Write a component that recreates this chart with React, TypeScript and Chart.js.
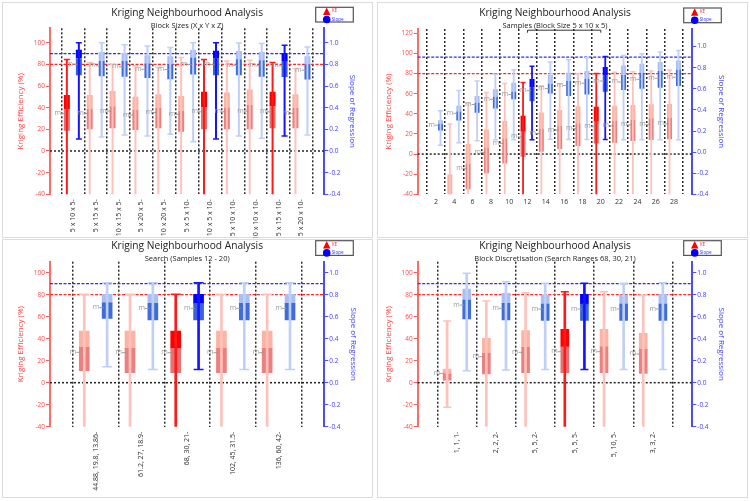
import React, { useEffect, useRef } from 'react';
import { Chart, registerables } from 'chart.js';

Chart.register(...registerables);
Chart.defaults.font.family = "'Open Sans', sans-serif";

// [min, q1, median, q3, max, mean]
type Stat = [number, number, number, number, number, number];

// ---------- Panel 1: Block sizes ----------
const blockLabels = ['5 x 10 x 5', '5 x 15 x 5', '10 x 15 x 5', '5 x 20 x 5', '10 x 20 x 5', '5 x 5 x 10', '10 x 5 x 10', '5 x 10 x 10', '10 x 10 x 10', '5 x 15 x 10', '5 x 20 x 10'];
const blockKe: Stat[] = [
  [-60, 18.7, 38.4, 51.6, 84.4, 34.7],
  [-60, 20.0, 38.7, 51.6, 81.7, 34.7],
  [-60, 20.9, 41.4, 55.3, 80.1, 36.8],
  [-60, 19.3, 37.8, 50.0, 78.6, 33.2],
  [-60, 20.9, 39.9, 52.5, 77.1, 35.6],
  [-60, 17.8, 37.2, 50.7, 86.3, 33.8],
  [-60, 20.0, 40.2, 54.7, 84.4, 36.2],
  [-60, 20.0, 40.2, 54.0, 83.2, 36.2],
  [-60, 20.0, 42.4, 56.8, 83.8, 36.8],
  [-60, 20.9, 41.4, 54.7, 81.7, 36.2],
  [-60, 20.9, 39.9, 52.5, 76.1, 34.7],
];
const blockSlope: Stat[] = [
  [0.11, 0.70, 0.854, 0.936, 1.0, 0.80],
  [0.13, 0.69, 0.832, 0.915, 1.0, 0.786],
  [0.147, 0.685, 0.832, 0.906, 0.982, 0.777],
  [0.138, 0.675, 0.807, 0.884, 0.97, 0.755],
  [0.154, 0.663, 0.801, 0.875, 0.955, 0.752],
  [0.086, 0.706, 0.863, 0.936, 1.0, 0.798],
  [0.111, 0.70, 0.854, 0.926, 1.0, 0.798],
  [0.138, 0.70, 0.847, 0.924, 0.998, 0.792],
  [0.117, 0.685, 0.838, 0.915, 0.992, 0.786],
  [0.138, 0.683, 0.832, 0.906, 0.977, 0.786],
  [0.147, 0.66, 0.801, 0.875, 0.961, 0.746],
];
const blockHighlight = [0, 6, 9];

// ---------- Panel 2: Samples ----------
const sampleLabels = ['2', '4', '6', '8', '10', '12', '14', '16', '18', '20', '22', '24', '26', '28'];
const sampleKe: (Stat | null)[] = [
  null,
  [-75, -65, -48, -20.2, 29.8, -52],
  [-70, -35.1, -9.3, 9.9, 50.3, -14.2],
  [-70, -19.2, 6.6, 24.5, 61.3, 1.7],
  [-70, -9.3, 15.6, 32.8, 70.2, 10.6],
  [-70, -2.6, 22.2, 38.1, 71.0, 17.0],
  [-70, 2.3, 25.5, 41.4, 68.0, 20.5],
  [-70, 5.0, 28.0, 43.7, 70.0, 23.8],
  [-70, 8.0, 30.5, 47.5, 80.0, 25.5],
  [-70, 10.6, 32.1, 47.0, 80.1, 27.2],
  [-70, 11.3, 33.3, 47.9, 81.3, 28.0],
  [-70, 12.9, 33.8, 48.8, 81.9, 29.0],
  [-70, 13.9, 35.5, 49.4, 82.6, 29.5],
  [-70, 14.6, 36.2, 49.8, 83.5, 30.0],
];
const sampleSlope: Stat[] = [
  [0.066, 0.205, 0.268, 0.302, 0.393, 0.255],
  [0.088, 0.30, 0.384, 0.44, 0.583, 0.368],
  [0.107, 0.373, 0.467, 0.533, 0.674, 0.451],
  [0.116, 0.414, 0.524, 0.596, 0.737, 0.50],
  [0.116, 0.502, 0.571, 0.658, 0.78, 0.545],
  [0.117, 0.482, 0.614, 0.693, 0.815, 0.582],
  [0.122, 0.555, 0.649, 0.734, 0.853, 0.602],
  [0.12, 0.532, 0.673, 0.753, 0.875, 0.632],
  [0.12, 0.546, 0.695, 0.768, 0.894, 0.653],
  [0.12, 0.571, 0.727, 0.806, 0.907, 0.674],
  [0.117, 0.588, 0.732, 0.821, 0.916, 0.665],
  [0.117, 0.60, 0.749, 0.837, 0.932, 0.69],
  [0.117, 0.61, 0.768, 0.853, 0.948, 0.70],
  [0.117, 0.626, 0.78, 0.869, 0.964, 0.71],
];
const sampleHighlight = [5, 9];
const sampleBracket = ['12', '20'];

// ---------- Panel 3: Search ----------
const searchLabels = ['44.88, 19.8, 13.86', '61.2, 27, 18.9', '68, 30, 21', '102, 45, 31.5', '136, 60, 42'];
const searchKe: Stat[] = [
  [-60, 10.9, 32.1, 47.0, 80.3, 27.6],
  [-60, 9.1, 31.2, 47.0, 80.3, 27.3],
  [-60, 9.1, 31.2, 47.0, 80.3, 27.3],
  [-60, 9.1, 31.2, 47.0, 80.3, 27.3],
  [-60, 9.1, 31.2, 47.0, 80.3, 27.3],
];
const searchSlope: Stat[] = [
  [0.145, 0.585, 0.727, 0.803, 0.909, 0.682],
  [0.121, 0.57, 0.721, 0.803, 0.909, 0.676],
  [0.121, 0.57, 0.721, 0.803, 0.909, 0.676],
  [0.121, 0.57, 0.721, 0.803, 0.909, 0.676],
  [0.121, 0.57, 0.721, 0.803, 0.909, 0.676],
];
const searchHighlight = [2];

// ---------- Panel 4: Block discretisation ----------
const discLabels = ['1, 1, 1', '2, 2, 2', '5, 5, 2', '5, 5, 5', '5, 10, 5', '3, 3, 2'];
const discKe: Stat[] = [
  [-22.4, 2.4, 7.9, 12.4, 56.1, 8.5],
  [-60, 7.9, 26.7, 40.3, 74.2, 23.6],
  [-60, 9.1, 32.1, 47.3, 81.8, 27.6],
  [-60, 9.1, 32.7, 48.5, 82.7, 28.2],
  [-60, 9.1, 32.7, 48.5, 82.7, 28.2],
  [-60, 8.5, 30.3, 44.8, 79.7, 26.1],
];
const discSlope: Stat[] = [
  [0.109, 0.579, 0.752, 0.852, 0.994, 0.706],
  [0.115, 0.57, 0.721, 0.812, 0.918, 0.676],
  [0.121, 0.567, 0.715, 0.797, 0.903, 0.67],
  [0.121, 0.567, 0.715, 0.803, 0.903, 0.67],
  [0.121, 0.567, 0.715, 0.797, 0.903, 0.67],
  [0.121, 0.567, 0.715, 0.803, 0.909, 0.67],
];
const discHighlight = [3];

// reference values
const keTarget = 80;
const slopeTarget = 0.9;
const keZero = 0;

// ---------- styles ----------
const TITLE_SIZE = 10.2;
const SUB_SIZE = 7.5;
const AXIS_TITLE_SIZE = 8;
const TICK_SIZE = 6.5;

const KE_COLORS = { w: '#ffc2ba', wHl: '#ff1a1a', lo: '#ec8080', loHl: '#e87070', up: '#fbb4a4', upHl: '#ff0000' };
const SL_COLORS = { w: '#c0cff8', wHl: '#1414ff', lo: '#3f6cdc', loHl: '#3a62d8', up: '#a9bff4', upHl: '#0000ff' };

interface PanelSpec {
  title: string;
  subtitle: string;
  labels: string[];
  ke: (Stat | null)[];
  slope: Stat[];
  highlight: number[];
  keMax: number;
  slopeMax: number;
  rotate: boolean;
  bracket?: string[];
  box: { x: number; y: number; w: number; h: number };
  area: { l: number; r: number; t: number; b: number };
  titleY: number;
  subY: number;
  leftTitleX: number;
  rightTitleX: number;
  cp: number;
  boxPx: number;
  whiskerPx: number;
}

const panels: PanelSpec[] = [
  {
    title: 'Kriging Neighbourhood Analysis', subtitle: 'Block Sizes (X x Y x Z)',
    labels: blockLabels, ke: blockKe, slope: blockSlope, highlight: blockHighlight,
    keMax: 113.3, slopeMax: 1.133, rotate: true,
    box: { x: 0, y: 0, w: 375, h: 238 }, area: { l: 50, r: 324.3, t: 28.3, b: 194.3 },
    titleY: 12.7, subY: 26, leftTitleX: 20.7, rightTitleX: 352.5, cp: 1.05, boxPx: 6, whiskerPx: 2,
  },
  {
    title: 'Kriging Neighbourhood Analysis', subtitle: 'Samples (Block Size 5 x 10 x 5)',
    labels: sampleLabels, ke: sampleKe, slope: sampleSlope, highlight: sampleHighlight,
    keMax: 124.3, slopeMax: 1.167, rotate: false, bracket: sampleBracket,
    box: { x: 375, y: 0, w: 375, h: 238 }, area: { l: 42.7, r: 317.3, t: 29, b: 194.3 },
    titleY: 12.7, subY: 26, leftTitleX: 14, rightTitleX: 346.7, cp: 0.98, boxPx: 5, whiskerPx: 1.8,
  },
  {
    title: 'Kriging Neighbourhood Analysis', subtitle: 'Search (Samples 12 - 20)',
    labels: searchLabels, ke: searchKe, slope: searchSlope, highlight: searchHighlight,
    keMax: 110, slopeMax: 1.1, rotate: true,
    box: { x: 0, y: 238, w: 375, h: 263 }, area: { l: 50, r: 324.3, t: 23.7, b: 188.7 },
    titleY: 8, subY: 21.3, leftTitleX: 20.7, rightTitleX: 353, cp: 1.0, boxPx: 10, whiskerPx: 2,
  },
  {
    title: 'Kriging Neighbourhood Analysis', subtitle: 'Block Discretisation (Search Ranges 68, 30, 21)',
    labels: discLabels, ke: discKe, slope: discSlope, highlight: discHighlight,
    keMax: 110, slopeMax: 1.1, rotate: true,
    box: { x: 375, y: 238, w: 375, h: 263 }, area: { l: 42.7, r: 317.3, t: 23.7, b: 188.7 },
    titleY: 8, subY: 21.3, leftTitleX: 14, rightTitleX: 346.7, cp: 1.0, boxPx: 8, whiskerPx: 2,
  },
];

// ---------- plugins ----------
const refLinesPlugin = {
  id: 'refLines',
  beforeDatasetsDraw(chart: any) {
    const { ctx, chartArea: a, scales } = chart;
    const lines = [
      { v: keTarget, sc: scales.y, color: '#ff2b2b', w: 1.2, dash: [3, 1.5] },
      { v: slopeTarget, sc: scales.y2, color: '#2b2bff', w: 1.2, dash: [3, 1.5] },
      { v: keZero, sc: scales.y, color: '#222222', w: 1.5, dash: [2, 2] },
    ];
    ctx.save();
    for (const l of lines) {
      const y = l.sc.getPixelForValue(l.v);
      ctx.strokeStyle = l.color;
      ctx.lineWidth = l.w;
      ctx.setLineDash(l.dash);
      ctx.beginPath();
      ctx.moveTo(a.left, y);
      ctx.lineTo(a.right, y);
      ctx.stroke();
    }
    ctx.restore();
  },
};

const boxMarksPlugin = {
  id: 'boxMarks',
  afterDatasetsDraw(chart: any) {
    const { ctx, chartArea: a } = chart;
    ctx.save();
    ctx.beginPath();
    ctx.rect(a.left, a.top - 4, a.right - a.left, a.bottom - a.top + 4);
    ctx.clip();
    chart.data.datasets.forEach((ds: any, di: number) => {
      const meta = chart.getDatasetMeta(di);
      if (ds.role === 'whisker') {
        meta.data.forEach((el: any, j: number) => {
          const p = el.getProps(['x', 'y', 'base'], true);
          const raw = ds.data[j];
          const hl = ds.hl.includes(raw.x - 1);
          ctx.strokeStyle = hl ? ds.capHl : ds.cap;
          ctx.lineWidth = 1.5;
          const half = ds.capPx / 2;
          for (const yy of [p.y, p.base]) {
            ctx.beginPath();
            ctx.moveTo(p.x - half, yy);
            ctx.lineTo(p.x + half, yy);
            ctx.stroke();
          }
        });
      }
      if (ds.role === 'lower') {
        const scale = chart.scales[ds.yAxisID];
        meta.data.forEach((el: any, j: number) => {
          const p = el.getProps(['x', 'width'], true);
          const y = scale.getPixelForValue(ds.means[j]);
          const left = p.x - p.width / 2;
          ctx.strokeStyle = 'rgba(150,150,150,0.9)';
          ctx.lineWidth = 1;
          ctx.beginPath();
          ctx.moveTo(left - 3, y);
          ctx.lineTo(left + 1.5, y);
          ctx.stroke();
          ctx.fillStyle = '#9a9a9a';
          ctx.font = "7px 'Open Sans', sans-serif";
          ctx.textAlign = 'right';
          ctx.textBaseline = 'middle';
          ctx.fillText('m', left - 3, y - 0.5);
        });
      }
    });
    ctx.restore();
  },
};

const legendPlugin = {
  id: 'boxLegend',
  afterDraw(chart: any) {
    const { ctx, chartArea: a } = chart;
    const x0 = a.right - 8.6;
    const y0 = a.top - 21;
    ctx.save();
    ctx.strokeStyle = '#555555';
    ctx.lineWidth = 1.2;
    ctx.strokeRect(x0, y0, 37.6, 14.7);
    const cx = a.right + 2.4;
    ctx.fillStyle = '#ff0000';
    ctx.beginPath();
    ctx.moveTo(cx, y0 + 0.3);
    ctx.lineTo(cx + 3.7, y0 + 7.8);
    ctx.lineTo(cx - 3.7, y0 + 7.8);
    ctx.closePath();
    ctx.fill();
    ctx.fillStyle = '#0000ff';
    ctx.beginPath();
    ctx.arc(cx, y0 + 12.2, 3.8, 0, Math.PI * 2);
    ctx.fill();
    ctx.font = "4.6px 'Open Sans', sans-serif";
    ctx.textAlign = 'left';
    ctx.textBaseline = 'middle';
    ctx.fillStyle = '#ff3030';
    ctx.fillText('KE', cx + 5, y0 + 3.6);
    ctx.fillStyle = '#3030ff';
    ctx.fillText('Slope', cx + 5, y0 + 12.1);
    ctx.restore();
  },
};

function bracketPlugin(spec: PanelSpec) {
  return {
    id: 'bracket',
    afterDraw(chart: any) {
      if (!spec.bracket) return;
      const { ctx, chartArea: a, scales } = chart;
      const x1 = scales.x.getPixelForValue(spec.labels.indexOf(spec.bracket[0]) + 1);
      const x2 = scales.x.getPixelForValue(spec.labels.indexOf(spec.bracket[1]) + 1);
      const y = a.top + 1.2;
      ctx.save();
      ctx.strokeStyle = '#333333';
      ctx.lineWidth = 1;
      ctx.beginPath();
      ctx.moveTo(x1, y + 2.5);
      ctx.lineTo(x1, y);
      ctx.lineTo(x2, y);
      ctx.lineTo(x2, y + 2.5);
      ctx.stroke();
      ctx.restore();
    },
  };
}

// ---------- config ----------
function buildConfig(s: PanelSpec): any {
  const N = s.labels.length;
  const H = s.box.h;
  const W = s.box.w;
  const titleLH = TITLE_SIZE * 1.2;
  const subLH = SUB_SIZE * 1.2;
  const axisLH = AXIS_TITLE_SIZE * 1.2;
  const hl = (i: number) => s.highlight.includes(i);

  const series = (stats: (Stat | null)[], stack: string, axis: string, c: typeof KE_COLORS) => {
    const entries = stats.map((st, i) => ({ i, st })).filter((e) => e.st) as { i: number; st: Stat }[];
    const mk = (lo: number, hi: number) => entries.map((e) => ({ x: e.i + 1, y: [e.st[lo], e.st[hi]] }));
    const color = (h: string, n: string) => (ctx: any) => (ctx.raw && hl(ctx.raw.x - 1) ? h : n);
    const common = {
      type: 'bar', stack, yAxisID: axis, xAxisID: 'x', borderWidth: 0,
      barPercentage: 1, categoryPercentage: s.cp, order: 1,
    };
    return [
      { ...common, label: stack + ' range', data: mk(0, 4), backgroundColor: color(c.wHl, c.w), maxBarThickness: s.whiskerPx,
        role: 'whisker', hl: s.highlight, capHl: c.wHl, cap: c.w, capPx: s.boxPx },
      { ...common, label: stack + ' lower', data: mk(1, 2), backgroundColor: color(c.loHl, c.lo), maxBarThickness: s.boxPx,
        role: 'lower', means: entries.map((e) => e.st[5]) },
      { ...common, label: stack + ' upper', data: mk(2, 3), backgroundColor: color(c.upHl, c.up), maxBarThickness: s.boxPx },
    ];
  };

  return {
    type: 'bar',
    data: {
      datasets: [...series(s.ke, 'ke', 'y', KE_COLORS), ...series(s.slope, 'slope', 'y2', SL_COLORS)],
    },
    options: {
      responsive: false,
      animation: false,
      devicePixelRatio: 1,
      layout: { padding: 0 },
      events: [],
      plugins: {
        legend: { display: false },
        tooltip: { enabled: false },
        title: {
          display: true, text: s.title, fullSize: false, color: '#222222',
          font: { size: TITLE_SIZE, weight: 'normal' },
          padding: { top: s.titleY - titleLH / 2, bottom: 0 },
        },
        subtitle: {
          display: true, text: s.subtitle, fullSize: false, color: '#222222',
          font: { size: SUB_SIZE, weight: 'normal' },
          padding: { top: s.subY - s.titleY - titleLH / 2 - subLH / 2, bottom: s.area.t - s.subY - subLH / 2 },
        },
      },
      scales: {
        x: {
          type: 'linear', min: 0, max: N + 1, offset: false,
          afterFit: (sc: any) => { sc.height = H - s.area.b; },
          ticks: {
            stepSize: 1, autoSkip: false,
            maxRotation: s.rotate ? 90 : 0, minRotation: s.rotate ? 90 : 0,
            padding: s.rotate ? 5 : 3, color: '#333333', font: { size: 7 },
            callback: (v: number) => (Number.isInteger(v) && v >= 1 && v <= N ? s.labels[v - 1] + (s.rotate ? '-' : '') : ''),
          },
          grid: { offset: true, drawTicks: false, color: '#2a2a2a', lineWidth: 1.5 },
          border: { display: false, dash: [2, 2] },
        },
        y: {
          type: 'linear', position: 'left', min: -40, max: s.keMax, stacked: false,
          afterFit: (sc: any) => { sc.width = s.area.l; },
          ticks: { stepSize: 20, includeBounds: false, color: '#ff4a4a', font: { size: TICK_SIZE }, padding: 1 },
          grid: { drawOnChartArea: false, drawTicks: true, tickLength: 4, color: '#ff5a5a', lineWidth: 1 },
          border: { display: true, color: '#ff6a6a', width: 2 },
          title: {
            display: true, text: 'Kriging Efficiency (%)', color: '#ff4040',
            font: { size: AXIS_TITLE_SIZE }, padding: { top: s.leftTitleX - axisLH / 2, bottom: 0 },
          },
        },
        y2: {
          type: 'linear', position: 'right', min: -0.4, max: s.slopeMax, stacked: false,
          afterFit: (sc: any) => { sc.width = W - s.area.r; },
          ticks: {
            stepSize: 0.2, includeBounds: false, color: '#4040ff', font: { size: TICK_SIZE }, padding: 1,
            callback: (v: number) => v.toFixed(1),
          },
          grid: { drawOnChartArea: false, drawTicks: true, tickLength: 4, color: '#5050ff', lineWidth: 1 },
          border: { display: true, color: '#4b4bff', width: 2 },
          title: {
            display: true, text: 'Slope of Regression', color: '#4040ff',
            font: { size: AXIS_TITLE_SIZE }, padding: { top: W - s.rightTitleX - axisLH / 2, bottom: 0 },
          },
        },
      },
    },
    plugins: [refLinesPlugin, boxMarksPlugin, legendPlugin, bracketPlugin(s)],
  };
}

function Panel({ spec }: { spec: PanelSpec }) {
  const ref = useRef<HTMLCanvasElement>(null);
  useEffect(() => {
    const chart = new Chart(ref.current as HTMLCanvasElement, buildConfig(spec));
    return () => chart.destroy();
  }, [spec]);
  return (
    <canvas
      ref={ref}
      width={spec.box.w}
      height={spec.box.h}
      style={{ position: 'absolute', left: spec.box.x, top: spec.box.y, width: spec.box.w, height: spec.box.h }}
    />
  );
}

const frames = [
  { x: 2, y: 2, w: 371, h: 236 },
  { x: 377, y: 2, w: 371, h: 236 },
  { x: 2, y: 239, w: 371, h: 259 },
  { x: 377, y: 239, w: 371, h: 259 },
];

export default function App() {
  return (
    <div style={{ position: 'fixed', left: 0, top: 0, width: 750, height: 501, background: '#ffffff', overflow: 'hidden' }}>
      {frames.map((f, i) => (
        <div key={i} style={{ position: 'absolute', left: f.x, top: f.y, width: f.w, height: f.h, border: '1px solid #dcdcdc', boxSizing: 'border-box' }} />
      ))}
      {panels.map((p, i) => (
        <Panel key={i} spec={p} />
      ))}
    </div>
  );
}
